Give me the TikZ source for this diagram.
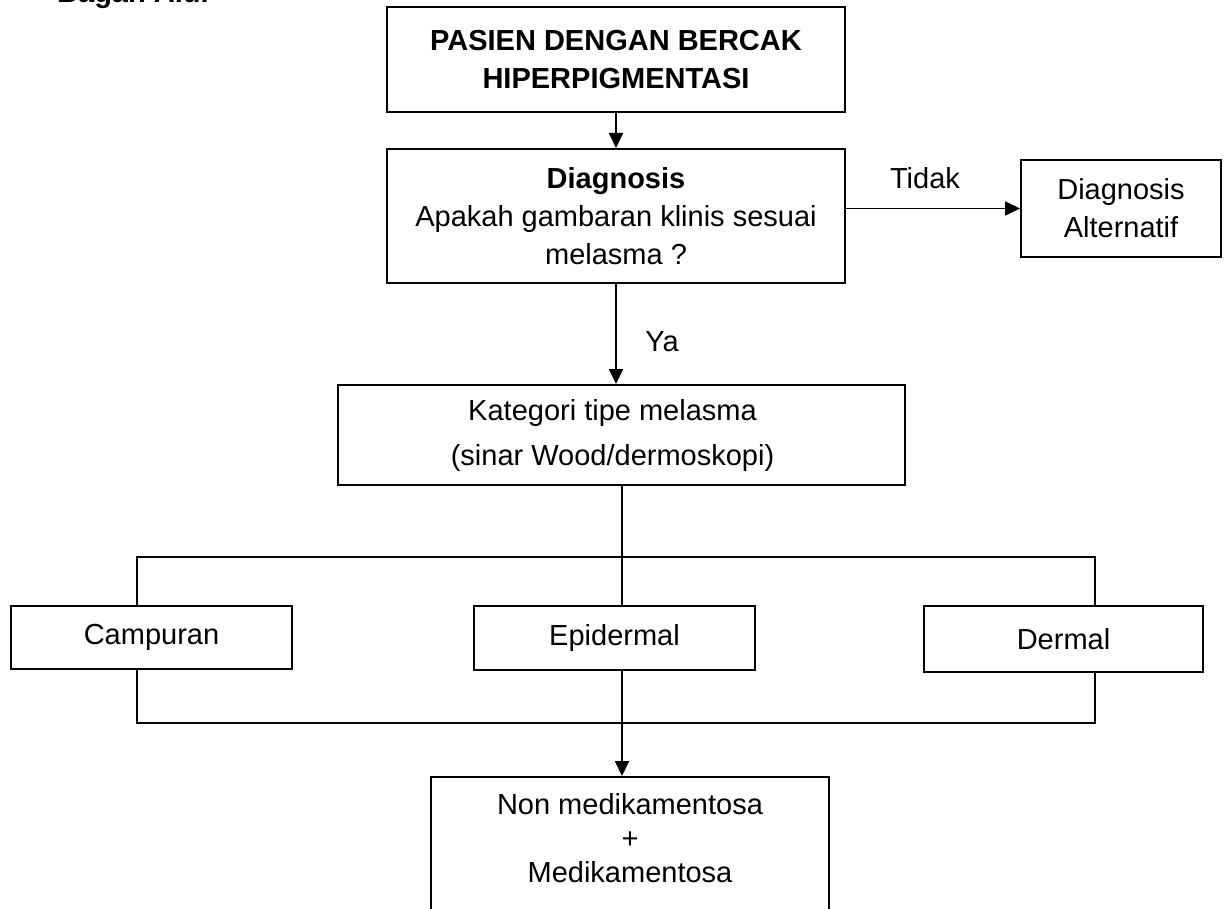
\documentclass[tikz,border=0pt]{standalone}
\usepackage{fontspec}
\setmainfont{Liberation Sans}
\usetikzlibrary{arrows.meta,calc}
\begin{document}
\begin{tikzpicture}[x=1pt,y=-1pt,
  txt/.style={font=\fontsize{29}{38}\selectfont},
  box/.style={draw, line width=2pt, inner sep=0pt, align=center, txt},
  link/.style={line width=1.8pt},
  arr/.style={link, -{Triangle[width=14pt,length=15pt]}},
  lbl/.style={txt, inner sep=0pt}]
\useasboundingbox (0,0) rectangle (1225,909);

% heading, mostly above the page edge
\node[font=\bfseries\fontsize{29}{38}\selectfont, anchor=base west, inner sep=0pt] (head) at (57,3) {Bagan Alur};

% boxes
\node[box, font=\bfseries\fontsize{29}{38}\selectfont, minimum width=458pt, minimum height=105pt] (pasien) at (616,59.5) {PASIEN DENGAN BERCAK\\HIPERPIGMENTASI};
\node[box, minimum width=458pt, minimum height=134pt] (diag) at (616,216) {\textbf{Diagnosis}\\Apakah gambaran klinis sesuai\\melasma ?};
\node[box, minimum width=200pt, minimum height=97pt] (alt) at (1121,208.5) {Diagnosis\\Alternatif};
\node[box, font=\fontsize{29}{45}\selectfont, minimum width=567pt, minimum height=100pt] (kat) at (621.5,435) {Kategori tipe melasma\hspace*{18pt}\\(sinar Wood/dermoskopi)\hspace*{18pt}};
\node[box, minimum width=281pt, minimum height=63pt] (camp) at (151.5,637.5) {Campuran};
\node[box, minimum width=281pt, minimum height=64pt] (epi) at (614.5,638) {Epidermal};
\node[box, minimum width=279pt, minimum height=66pt] (derm) at (1063.5,639) {Dermal};
\node[box, minimum width=398pt, minimum height=190pt, anchor=north] (terapi) at (630,776) {};
\node[lbl, align=center, font=\fontsize{29}{34}\selectfont] (terapitxt) at (630,838) {Non medikamentosa\\+\\Medikamentosa};

% branch labels
\node[lbl] (tidak) at (925,178) {Tidak};
\node[lbl] (ya) at (662,342) {Ya};

% junction points of the branching lines
\coordinate (busL) at (137,557);
\coordinate (busM) at (622,557);
\coordinate (busR) at (1095,557);
\coordinate (joinL) at (137,723);
\coordinate (joinR) at (1095,723);

% connectors
\draw[arr] (pasien.south) -- (diag.north);
\draw[arr] (diag.east |- alt.west) -- (alt.west);
\draw[arr] (diag.south) -- (diag.south |- kat.north);
\draw[link] (busM |- kat.south) -- (busM);
\draw[link] (busL |- camp.north) -- (busL) -- (busR) -- (busR |- derm.north);
\draw[link] (busM) -- (busM |- epi.north);
\draw[link] (busL |- camp.south) -- (joinL) -- (joinR) -- (busR |- derm.south);
\draw[arr] (busM |- epi.south) -- (busM |- terapi.north);
\end{tikzpicture}
\end{document}
